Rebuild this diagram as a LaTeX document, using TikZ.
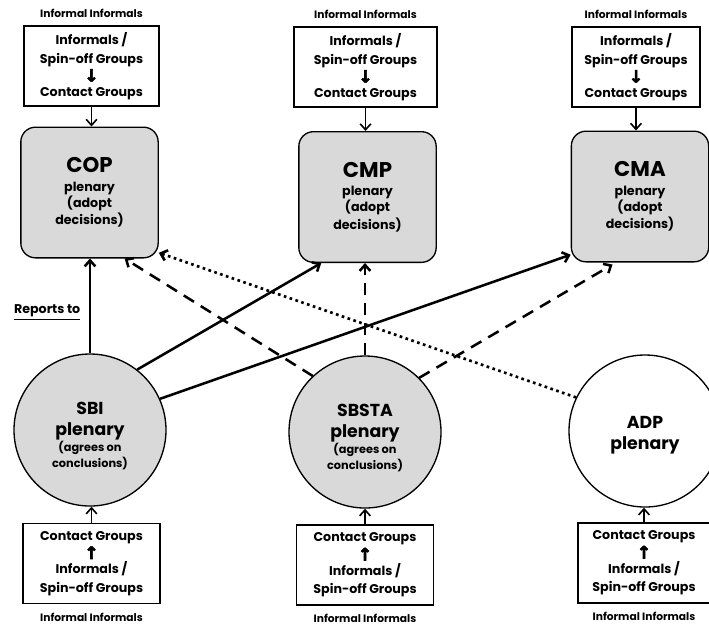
\documentclass[tikz,border=0pt]{standalone}
\usepackage{fontspec}
\setmainfont{Poppins}
\newfontfamily\arrowfont{DejaVu Sans}[FakeBold=3]
\usetikzlibrary{arrows.meta,positioning}

\newcommand{\downglyph}{{\arrowfont\fontsize{13}{13}\selectfont ↓}}
\newcommand{\upglyph}{{\arrowfont\fontsize{13}{13}\selectfont ↑}}
\newcommand{\namesize}{\fontsize{16}{18}\selectfont}
\newcommand{\adoptsize}{\fontsize{9.5}{13}\selectfont}
\newcommand{\subsize}{\fontsize{13}{15}\selectfont}
\newcommand{\plenarysize}{\fontsize{13}{15}\selectfont}
\newcommand{\agreesize}{\fontsize{8.5}{11}\selectfont}

\begin{document}
\begin{tikzpicture}[x=0.75pt,y=-0.75pt,>={Straight Barb[length=4.5pt,width=8pt]},
	plenarybox/.style={rectangle,rounded corners=11pt,draw=black,line width=1pt,fill=black!15,minimum width=103pt,minimum height=98pt,align=center,font=\bfseries},
	subcircle/.style={circle,draw=black,line width=1pt,fill=black!15,minimum size=114pt,inner sep=0pt,align=center,font=\bfseries},
	groupbox/.style={rectangle,draw=black,line width=1.1pt,minimum width=101pt,minimum height=60pt,inner sep=2pt,align=center,font=\bfseries\fontsize{9.5}{14}\selectfont},
	tagtext/.style={font=\bfseries\fontsize{8}{9}\selectfont},
	reportline/.style={draw,line width=1.9pt,->},
	feedline/.style={draw,line width=1.2pt,->}]
	\useasboundingbox (0,0) rectangle (709,626);
	% bodies that adopt decisions
	\node [plenarybox] (cop) at (89.5,192.5) {\namesize COP\\[2pt]\adoptsize plenary\\\adoptsize (adopt\\[1pt]\adoptsize decisions)};
	\node [plenarybox] (cmp) at (367.5,197) {\namesize CMP\\[2pt]\adoptsize plenary\\\adoptsize (adopt\\[1pt]\adoptsize decisions)};
	\node [plenarybox] (cma) at (640,196.5) {\namesize CMA\\[2pt]\adoptsize plenary\\\adoptsize (adopt\\[1pt]\adoptsize decisions)};
	% subsidiary bodies
	\node [subcircle] (sbi) at (90,430) {\rule{0pt}{18.5pt}\subsize SBI\\[3.5pt]\plenarysize plenary\\[0.5pt]\agreesize (agrees on\\\agreesize conclusions)};
	\node [subcircle] (sbsta) at (365,432) {\rule{0pt}{18.5pt}\subsize SBSTA\\[3.5pt]\plenarysize plenary\\[0.5pt]\agreesize (agrees on\\\agreesize conclusions)};
	\node [subcircle,fill=white] (adp) at (645,431) {\rule{0pt}{15.5pt}\subsize ADP\\[4pt]\plenarysize plenary};
	% groups feeding the bodies
	\node [groupbox] (copin) at (91.5,66) {Informals /\\Spin-off Groups\\\downglyph\\[-3pt]Contact Groups};
	\node [groupbox,minimum width=107pt] (cmpin) at (365.5,67) {Informals /\\Spin-off Groups\\\downglyph\\[-3pt]Contact Groups};
	\node [groupbox,minimum width=96pt] (cmain) at (636,67) {Informals /\\Spin-off Groups\\\downglyph\\[-3pt]Contact Groups};
	\node [groupbox,minimum width=103pt] (sbiin) at (91.5,563.5) {Contact Groups\\\upglyph\\[-3pt]Informals /\\Spin-off Groups};
	\node [groupbox,minimum width=103pt] (sbstain) at (365,565) {Contact Groups\\\upglyph\\[-3pt]Informals /\\Spin-off Groups};
	\node [groupbox,minimum width=99pt] (adpin) at (644,563) {Contact Groups\\\upglyph\\[-3pt]Informals /\\Spin-off Groups};
	\node [tagtext,above=2pt of copin] (coptag) {Informal Informals};
	\node [tagtext,above=2pt of cmpin] (cmptag) {Informal Informals};
	\node [tagtext,above=2pt of cmain] (cmatag) {Informal Informals};
	\node [tagtext,below=3pt of sbiin] (sbitag) {Informal Informals};
	\node [tagtext,below=3pt of sbstain] (sbstatag) {Informal Informals};
	\node [tagtext,below=3pt of adpin] (adptag) {Informal Informals};
	% groups to plenaries
	\path[feedline] (copin.south) -- (copin.south |- cop.north);
	\path[feedline] (cmpin.south) -- (cmpin.south |- cmp.north);
	\path[feedline] (cmain.south) -- (cmain.south |- cma.north);
	\path[feedline] (sbiin.north) -- (sbiin.north |- sbi.south);
	\path[feedline] (sbstain.north) -- (sbstain.north |- sbsta.south);
	\path[feedline] (adpin.north) -- (adpin.north |- adp.south);
	% reporting lines
	\path[reportline] (sbi.north) -- node[pos=0.43,left=3pt,font=\bfseries\fontsize{9.5}{11}\selectfont] {\underline{Reports to}} (sbi.north |- cop.south);
	\path[reportline] (sbi.52) -- (cmp.-125);
	\path[reportline] (sbi.24) -- (cma.-140);
	\path[reportline,dash pattern=on 9pt off 6pt] (sbsta.133) -- (cop.-62);
	\path[reportline,dash pattern=on 9pt off 6pt] (sbsta.north) -- (sbsta.north |- cmp.south);
	\path[reportline,dash pattern=on 9pt off 6pt,shorten >=3pt] (sbsta.45) -- (cma.-110);
	\path[reportline,line width=2pt,dash pattern=on 2pt off 2.6pt] (adp.154) -- (cop.-41);
\end{tikzpicture}
\end{document}
